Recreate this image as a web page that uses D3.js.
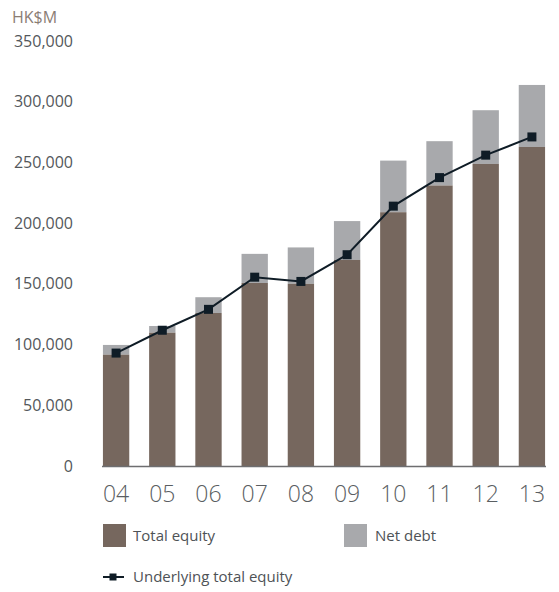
<!DOCTYPE html>
<html>
<head>
<meta charset="utf-8">
<script src="https://cdn.jsdelivr.net/npm/d3@7"></script>
<style>
  body { margin: 0; background: #fff; }
  svg { font-family: "Open Sans", "Liberation Sans", sans-serif; }
</style>
</head>
<body>
<svg></svg>
<script>
const years = ["04", "05", "06", "07", "08", "09", "10", "11", "12", "13"];
const totalEquity = [91700, 109800, 126000, 150700, 150000, 169700, 209000, 231000, 248800, 262800];
const netDebt = [8000, 5500, 13000, 24000, 30000, 32000, 42500, 36500, 44200, 51000];
const underlying = [93000, 111800, 129000, 155500, 152000, 174000, 214000, 237500, 256000, 271000];
const yTicks = [0, 50000, 100000, 150000, 200000, 250000, 300000, 350000];

const width = 559;
const height = 592;

const svg = d3.select("svg").attr("width", width).attr("height", height);

const x = d3.scaleBand().domain(years).range([102, 546]).paddingInner(0.43).paddingOuter(0.02);
const y = d3.scaleLinear().domain([0, 350000]).range([466, 41]);

// y tick labels
svg.append("g")
  .selectAll("text")
  .data(yTicks)
  .enter()
  .append("text")
  .attr("x", 73)
  .attr("y", d => y(d))
  .attr("dy", "0.35em")
  .attr("text-anchor", "end")
  .attr("fill", "#53575b")
  .style("font-size", "16px")
  .text(d => d3.format(",")(d));

svg.append("text")
  .attr("x", 12).attr("y", 23)
  .attr("fill", "#8b7d74")
  .style("font-size", "16px")
  .text("HK$M");

// bars
const bars = svg.append("g");
bars.selectAll(".debt")
  .data(years)
  .enter()
  .append("rect")
  .attr("x", d => x(d))
  .attr("width", x.bandwidth())
  .attr("y", (d, i) => y(totalEquity[i] + netDebt[i]))
  .attr("height", (d, i) => y(totalEquity[i]) - y(totalEquity[i] + netDebt[i]))
  .attr("fill", "#a8a9ac");

bars.selectAll(".equity")
  .data(years)
  .enter()
  .append("rect")
  .attr("x", d => x(d))
  .attr("width", x.bandwidth())
  .attr("y", (d, i) => y(totalEquity[i]))
  .attr("height", (d, i) => y(0) - y(totalEquity[i]))
  .attr("fill", "#76675e");

// baseline
svg.append("line")
  .attr("x1", 102).attr("x2", 546)
  .attr("y1", y(0) + 0.5).attr("y2", y(0) + 0.5)
  .attr("stroke", "#6e6e70").attr("stroke-width", 1.5);

// x labels
svg.append("g")
  .selectAll("text")
  .data(years)
  .enter()
  .append("text")
  .attr("x", d => x(d) + x.bandwidth() / 2)
  .attr("y", 502)
  .attr("text-anchor", "middle")
  .attr("fill", "#5a5e62")
  .style("font-size", "23px")
  .style("font-weight", "300")
  .text(d => d);

// line
const line = d3.line()
  .x((d, i) => x(years[i]) + x.bandwidth() / 2)
  .y(d => y(d));

svg.append("path")
  .datum(underlying)
  .attr("d", line)
  .attr("fill", "none")
  .attr("stroke", "#0f1c26")
  .attr("stroke-width", 2);

svg.append("g")
  .selectAll("rect")
  .data(underlying)
  .enter()
  .append("rect")
  .attr("x", (d, i) => x(years[i]) + x.bandwidth() / 2 - 4.5)
  .attr("y", d => y(d) - 4.5)
  .attr("width", 9).attr("height", 9)
  .attr("fill", "#0f1c26");

// legend
const legend = svg.append("g").style("font-size", "15px").attr("fill", "#4e5256");
legend.append("rect").attr("x", 103).attr("y", 524).attr("width", 23).attr("height", 23).attr("fill", "#76675e");
legend.append("text").attr("x", 133).attr("y", 541).text("Total equity");
legend.append("rect").attr("x", 344).attr("y", 524).attr("width", 23).attr("height", 23).attr("fill", "#a8a9ac");
legend.append("text").attr("x", 375).attr("y", 541).text("Net debt");
legend.append("line").attr("x1", 103).attr("x2", 124).attr("y1", 577).attr("y2", 577)
  .attr("stroke", "#0f1c26").attr("stroke-width", 2);
legend.append("rect").attr("x", 109.5).attr("y", 573.5).attr("width", 7).attr("height", 7).attr("fill", "#0f1c26");
legend.append("text").attr("x", 133).attr("y", 582).text("Underlying total equity");
</script>
</body>
</html>
